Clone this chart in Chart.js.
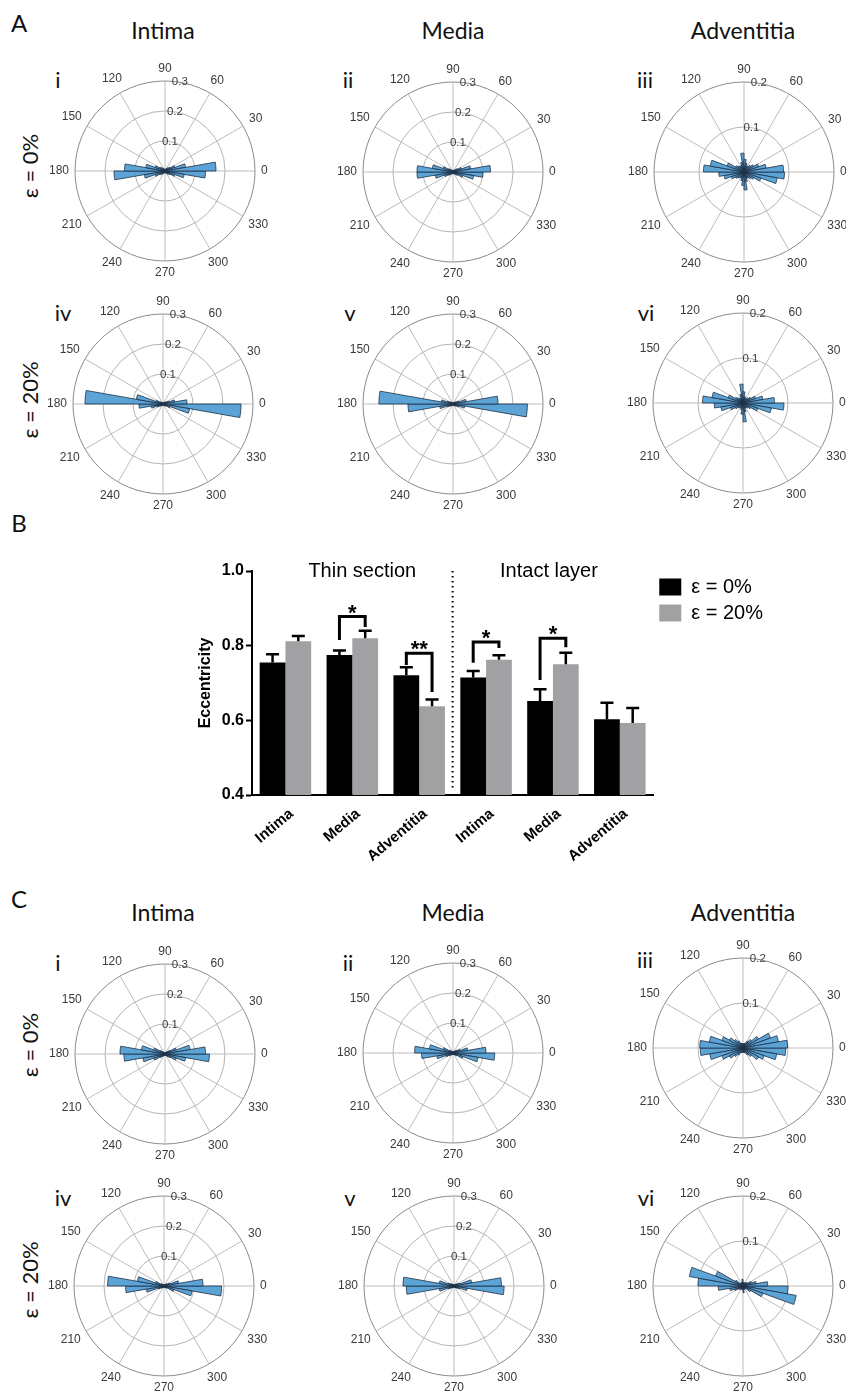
<!DOCTYPE html>
<html>
<head>
<meta charset="utf-8">
<title>Fibre orientation and eccentricity</title>
<script src="https://cdn.jsdelivr.net/npm/chart.js@4.4.0/dist/chart.umd.min.js"></script>
<style>
  html, body { margin: 0; padding: 0; background: #fff; }
  #page { position: relative; width: 846px; height: 1398px; overflow: hidden; font-family: Lato, "Open Sans", sans-serif; color: #111; }
  .t { position: absolute; transform: translate(-50%, -50%); white-space: nowrap; line-height: 1; }
  .panel { font-size: 24px; }
  .layer { font-size: 23px; }
  .num { font-size: 22px; }
  .strain { font-size: 22px; transform: translate(-50%, -50%) rotate(-90deg); }
  canvas.rose { position: absolute; }
  #bars { position: absolute; left: 190px; top: 550px; }
</style>
</head>
<body>
<div id="page">
  <div class="t panel" style="left:19px;top:23px">A</div>
  <div class="t panel" style="left:19px;top:523px">B</div>
  <div class="t panel" style="left:19px;top:899px">C</div>

  <div class="t layer" style="left:163px;top:30px">Intima</div>
  <div class="t layer" style="left:453px;top:30px">Media</div>
  <div class="t layer" style="left:743px;top:30px">Adventitia</div>
  <div class="t layer" style="left:163px;top:912px">Intima</div>
  <div class="t layer" style="left:453px;top:912px">Media</div>
  <div class="t layer" style="left:743px;top:912px">Adventitia</div>

  <div class="t strain" style="left:30px;top:166px">ε = 0%</div>
  <div class="t strain" style="left:30px;top:400px">ε = 20%</div>
  <div class="t strain" style="left:30px;top:1045px">ε = 0%</div>
  <div class="t strain" style="left:30px;top:1280px">ε = 20%</div>

  <div class="t num" style="left:58px;top:80px">i</div>
  <div class="t num" style="left:348px;top:80px">ii</div>
  <div class="t num" style="left:645px;top:80px">iii</div>
  <div class="t num" style="left:63px;top:313px">iv</div>
  <div class="t num" style="left:350px;top:313px">v</div>
  <div class="t num" style="left:646px;top:313px">vi</div>
  <div class="t num" style="left:58px;top:963px">i</div>
  <div class="t num" style="left:348px;top:963px">ii</div>
  <div class="t num" style="left:645px;top:960px">iii</div>
  <div class="t num" style="left:63px;top:1198px">iv</div>
  <div class="t num" style="left:350px;top:1198px">v</div>
  <div class="t num" style="left:646px;top:1198px">vi</div>

  <canvas class="rose" id="roseA1" width="240" height="240" style="left:45px;top:51px"></canvas>
  <canvas class="rose" id="roseA2" width="240" height="240" style="left:333px;top:52px"></canvas>
  <canvas class="rose" id="roseA3" width="240" height="240" style="left:624px;top:52px"></canvas>
  <canvas class="rose" id="roseA4" width="240" height="240" style="left:43px;top:284px"></canvas>
  <canvas class="rose" id="roseA5" width="240" height="240" style="left:333px;top:284px"></canvas>
  <canvas class="rose" id="roseA6" width="240" height="240" style="left:623px;top:283px"></canvas>
  <canvas class="rose" id="roseC1" width="240" height="240" style="left:45px;top:934px"></canvas>
  <canvas class="rose" id="roseC2" width="240" height="240" style="left:333px;top:933px"></canvas>
  <canvas class="rose" id="roseC3" width="240" height="240" style="left:623px;top:928px"></canvas>
  <canvas class="rose" id="roseC4" width="240" height="240" style="left:44px;top:1166px"></canvas>
  <canvas class="rose" id="roseC5" width="240" height="240" style="left:334px;top:1166px"></canvas>
  <canvas class="rose" id="roseC6" width="240" height="240" style="left:623px;top:1166px"></canvas>

  <canvas id="bars" width="583" height="315"></canvas>
</div>

<script>
// ---- rose histograms: fraction of fibres per 10 degree bin, bins listed from 0 deg counter-clockwise ----
const binLabels = ["0", "10", "20", "30", "40", "50", "60", "70", "80", "90", "100", "110",
    "120", "130", "140", "150", "160", "170", "180", "190", "200", "210", "220", "230",
    "240", "250", "260", "270", "280", "290", "300", "310", "320", "330", "340", "350"];
const spokeAngles = [0, 30, 60, 90, 120, 150, 180, 210, 240, 270, 300, 330];

// A: thin sections
const thinIntima0 = [0.17, 0.07, 0.035, 0.02, 0.015, 0.01, 0.008, 0.006, 0.006, 0.006, 0.006, 0.008,
    0.01, 0.015, 0.02, 0.035, 0.065, 0.135, 0.17, 0.07, 0.035, 0.02, 0.015, 0.01,
    0.008, 0.006, 0.006, 0.006, 0.006, 0.008, 0.01, 0.015, 0.02, 0.035, 0.065, 0.135];
const thinMedia0 = [0.125, 0.06, 0.03, 0.018, 0.012, 0.008, 0.006, 0.005, 0.005, 0.005, 0.005, 0.006,
    0.008, 0.012, 0.018, 0.035, 0.07, 0.12, 0.12, 0.06, 0.03, 0.018, 0.012, 0.008,
    0.006, 0.005, 0.005, 0.005, 0.005, 0.006, 0.008, 0.012, 0.018, 0.035, 0.07, 0.1];
const thinAdv0 = [0.088, 0.05, 0.035, 0.025, 0.02, 0.015, 0.015, 0.02, 0.028, 0.042, 0.022, 0.015,
    0.015, 0.018, 0.022, 0.04, 0.076, 0.09, 0.056, 0.045, 0.03, 0.022, 0.018, 0.015,
    0.015, 0.02, 0.03, 0.04, 0.022, 0.015, 0.015, 0.02, 0.025, 0.04, 0.075, 0.09];
const thinIntima20 = [0.08, 0.04, 0.02, 0.012, 0.008, 0.006, 0.005, 0.004, 0.004, 0.004, 0.004, 0.005,
    0.006, 0.008, 0.012, 0.025, 0.09, 0.26, 0.08, 0.04, 0.02, 0.012, 0.008, 0.006,
    0.005, 0.004, 0.004, 0.004, 0.004, 0.005, 0.006, 0.008, 0.012, 0.025, 0.09, 0.26];
const thinMedia20 = [0.15, 0.045, 0.02, 0.012, 0.008, 0.006, 0.005, 0.004, 0.004, 0.004, 0.004, 0.005,
    0.006, 0.008, 0.012, 0.02, 0.04, 0.247, 0.15, 0.045, 0.02, 0.012, 0.008, 0.006,
    0.005, 0.004, 0.004, 0.004, 0.004, 0.005, 0.006, 0.008, 0.012, 0.02, 0.04, 0.248];
const thinAdv20 = [0.07, 0.045, 0.03, 0.02, 0.015, 0.012, 0.012, 0.015, 0.025, 0.042, 0.02, 0.012,
    0.012, 0.015, 0.02, 0.035, 0.07, 0.09, 0.064, 0.05, 0.03, 0.02, 0.015, 0.012,
    0.012, 0.015, 0.025, 0.042, 0.02, 0.012, 0.012, 0.015, 0.02, 0.035, 0.064, 0.091];

// C: intact layers
const intactIntima0 = [0.135, 0.085, 0.04, 0.02, 0.012, 0.008, 0.005, 0.005, 0.005, 0.005, 0.005, 0.005,
    0.005, 0.012, 0.02, 0.04, 0.08, 0.15, 0.137, 0.075, 0.04, 0.02, 0.012, 0.008,
    0.005, 0.005, 0.005, 0.005, 0.005, 0.005, 0.005, 0.012, 0.02, 0.04, 0.07, 0.148];
const intactMedia0 = [0.11, 0.05, 0.025, 0.015, 0.01, 0.007, 0.005, 0.005, 0.005, 0.005, 0.005, 0.005,
    0.007, 0.01, 0.015, 0.035, 0.08, 0.128, 0.105, 0.055, 0.025, 0.015, 0.01, 0.007,
    0.005, 0.005, 0.005, 0.005, 0.005, 0.005, 0.007, 0.01, 0.015, 0.035, 0.085, 0.139];
const intactAdv0 = [0.099, 0.08, 0.065, 0.04, 0.025, 0.018, 0.012, 0.01, 0.01, 0.01, 0.01, 0.012,
    0.018, 0.025, 0.035, 0.05, 0.076, 0.096, 0.095, 0.075, 0.05, 0.035, 0.025, 0.018,
    0.012, 0.01, 0.01, 0.01, 0.01, 0.012, 0.018, 0.025, 0.04, 0.05, 0.076, 0.095];
const intactIntima20 = [0.13, 0.05, 0.02, 0.012, 0.008, 0.006, 0.005, 0.004, 0.004, 0.004, 0.004, 0.005,
    0.006, 0.008, 0.012, 0.03, 0.09, 0.188, 0.128, 0.06, 0.02, 0.012, 0.008, 0.006,
    0.005, 0.004, 0.004, 0.004, 0.004, 0.005, 0.006, 0.008, 0.012, 0.035, 0.095, 0.192];
const intactMedia20 = [0.158, 0.06, 0.02, 0.012, 0.008, 0.006, 0.005, 0.004, 0.004, 0.004, 0.004, 0.005,
    0.006, 0.008, 0.012, 0.02, 0.05, 0.17, 0.159, 0.05, 0.02, 0.012, 0.008, 0.006,
    0.005, 0.004, 0.004, 0.004, 0.004, 0.005, 0.006, 0.008, 0.012, 0.02, 0.045, 0.167];
const intactAdv20 = [0.055, 0.03, 0.02, 0.012, 0.01, 0.008, 0.008, 0.008, 0.008, 0.015, 0.008, 0.008,
    0.008, 0.008, 0.02, 0.065, 0.121, 0.1, 0.055, 0.03, 0.02, 0.012, 0.01, 0.008,
    0.008, 0.008, 0.008, 0.015, 0.008, 0.008, 0.008, 0.008, 0.02, 0.047, 0.12, 0.1];

// ---- B: eccentricity (mean and SEM) ----
const layerNames = ["Intima", "Media", "Adventitia", "Intima", "Media", "Adventitia"];
const sectionTitles = ["Thin section", "Intact layer"];
const ecc0 = [0.755, 0.775, 0.721, 0.715, 0.652, 0.603];
const ecc0Sem = [0.022, 0.012, 0.021, 0.017, 0.031, 0.044];
const ecc20 = [0.812, 0.82, 0.638, 0.762, 0.75, 0.593];
const ecc20Sem = [0.014, 0.02, 0.018, 0.012, 0.031, 0.04];
const eccTicks = [0.4, 0.6, 0.8, 1.0];
// significance brackets
const sigGroup = [1, 2, 3, 4];
const sigMark = ["*", "**", "*", "*"];
const sigTop = [0.878, 0.78, 0.81, 0.82];
const sigLeftEnd = [0.815, 0.748, 0.754, 0.708];
const sigRightEnd = [0.85, 0.676, 0.794, 0.796];

// Colors
const roseFill = "rgba(92, 163, 214, 1)";
const roseEdge = "#1d2f44";
const ringColor = "#b3b3b3";
const outerRingColor = "#8a8a8a";
const spokeColor = "#bdbdbd";
const polarText = "#3a3a3a";
const black = "#000000";
const grey = "#a1a1a4";

const helv = '"Liberation Sans", Arial, sans-serif';

// Grid spokes and angle / radius labels of the rose plots
const roseFrame = {
    id: "roseFrame",
    beforeDatasetsDraw(chart) {
        const s = chart.scales.r;
        const c = chart.ctx;
        c.save();
        c.strokeStyle = spokeColor;
        c.lineWidth = 1;
        spokeAngles.forEach(function (deg) {
            const a = (deg * Math.PI) / 180;
            c.beginPath();
            c.moveTo(s.xCenter, s.yCenter);
            c.lineTo(s.xCenter + s.drawingArea * Math.cos(a), s.yCenter - s.drawingArea * Math.sin(a));
            c.stroke();
        });
        c.restore();
    },
    afterDraw(chart) {
        const s = chart.scales.r;
        const c = chart.ctx;
        c.save();
        c.font = "12px " + helv;
        c.fillStyle = polarText;
        c.textAlign = "center";
        c.textBaseline = "middle";
        spokeAngles.forEach(function (deg) {
            const a = (deg * Math.PI) / 180;
            const txt = String(deg);
            const w = c.measureText(txt).width;
            const d = s.drawingArea + 6 + (Math.abs(Math.cos(a)) * w) / 2 + Math.abs(Math.sin(a)) * 6;
            c.fillText(txt, s.xCenter + d * Math.cos(a), s.yCenter - d * Math.sin(a));
        });
        c.font = "11.5px " + helv;
        const ra = (80.5 * Math.PI) / 180;
        s.ticks.forEach(function (t) {
            if (t.value <= 0) return;
            const d = s.getDistanceFromCenterForValue(t.value);
            c.fillText(t.value.toFixed(1), s.xCenter + d * Math.cos(ra), s.yCenter - d * Math.sin(ra));
        });
        c.restore();
    },
};

// Rose plot: arcs run clockwise from east, so bins are fed in reverse angular order
function makeRose(id, bins, rMax) {
    const el = document.getElementById(id);
    return new Chart(el.getContext("2d"), {
        type: "polarArea",
        data: {
            labels: binLabels.slice().reverse(),
            datasets: [
                {
                    data: bins.slice().reverse(),
                    backgroundColor: roseFill,
                    borderColor: roseEdge,
                    borderWidth: 0.8,
                },
            ],
        },
        options: {
            responsive: false,
            animation: false,
            layout: { padding: 30 },
            plugins: {
                legend: { display: false },
                tooltip: { enabled: false },
            },
            scales: {
                r: {
                    min: 0,
                    max: rMax,
                    startAngle: 90,
                    ticks: { display: false, stepSize: 0.1 },
                    grid: {
                        circular: true,
                        lineWidth: 1,
                        color: function (ctx) {
                            return ctx.tick && Math.abs(ctx.tick.value - rMax) < 1e-6 ? outerRingColor : ringColor;
                        },
                    },
                    angleLines: { display: false },
                    pointLabels: { display: false },
                },
            },
        },
        plugins: [roseFrame],
    });
}

makeRose("roseA1", thinIntima0, 0.3);
makeRose("roseA2", thinMedia0, 0.3);
makeRose("roseA3", thinAdv0, 0.2);
makeRose("roseA4", thinIntima20, 0.3);
makeRose("roseA5", thinMedia20, 0.3);
makeRose("roseA6", thinAdv20, 0.2);
makeRose("roseC1", intactIntima0, 0.3);
makeRose("roseC2", intactMedia0, 0.3);
makeRose("roseC3", intactAdv0, 0.2);
makeRose("roseC4", intactIntima20, 0.3);
makeRose("roseC5", intactMedia20, 0.3);
makeRose("roseC6", intactAdv20, 0.2);

// Error bars, significance brackets, divider and section titles for the bar chart
const barExtras = {
    id: "barExtras",
    afterDatasetsDraw(chart) {
        const c = chart.ctx;
        const y = chart.scales.y;
        const x = chart.scales.x;
        const area = chart.chartArea;
        const sems = [ecc0Sem, ecc20Sem];
        c.save();
        c.strokeStyle = black;
        c.fillStyle = black;

        // error bars (upper only)
        c.lineWidth = 2.5;
        [0, 1].forEach(function (d) {
            const meta = chart.getDatasetMeta(d);
            const vals = chart.data.datasets[d].data;
            meta.data.forEach(function (bar, i) {
                const top = y.getPixelForValue(vals[i] + sems[d][i]);
                c.beginPath();
                c.moveTo(bar.x, bar.y);
                c.lineTo(bar.x, top);
                c.moveTo(bar.x - 6.5, top);
                c.lineTo(bar.x + 6.5, top);
                c.stroke();
            });
        });

        // brackets
        const m0 = chart.getDatasetMeta(0);
        const m1 = chart.getDatasetMeta(1);
        c.lineWidth = 3;
        c.lineJoin = "miter";
        c.font = "bold 22px " + helv;
        c.textAlign = "center";
        c.textBaseline = "alphabetic";
        sigGroup.forEach(function (g, k) {
            const x0 = m0.data[g].x;
            const x1 = m1.data[g].x;
            const yt = y.getPixelForValue(sigTop[k]);
            c.beginPath();
            c.moveTo(x0, y.getPixelForValue(sigLeftEnd[k]));
            c.lineTo(x0, yt);
            c.lineTo(x1, yt);
            c.lineTo(x1, y.getPixelForValue(sigRightEnd[k]));
            c.stroke();
            c.fillText(sigMark[k], (x0 + x1) / 2, yt + 3);
        });

        // dotted divider between the two sample types
        const xd = (x.getPixelForValue(2) + x.getPixelForValue(3)) / 2;
        c.lineWidth = 2;
        c.setLineDash([1.5, 3.5]);
        c.beginPath();
        c.moveTo(xd, area.top);
        c.lineTo(xd, area.bottom - 4);
        c.stroke();
        c.setLineDash([]);

        // section titles
        c.font = "20px " + helv;
        c.textBaseline = "middle";
        c.fillText(sectionTitles[0], x.getPixelForValue(1) + 10, area.top);
        c.fillText(sectionTitles[1], x.getPixelForValue(4) - 4, area.top);
        c.restore();
    },
};

const barCtx = document.getElementById("bars").getContext("2d");
new Chart(barCtx, {
    type: "bar",
    data: {
        labels: layerNames,
        datasets: [
            {
                label: "ε = 0%",
                data: ecc0,
                backgroundColor: black,
                borderWidth: 0,
                barPercentage: 1,
                categoryPercentage: 0.77,
            },
            {
                label: "ε = 20%",
                data: ecc20,
                backgroundColor: grey,
                borderWidth: 0,
                barPercentage: 1,
                categoryPercentage: 0.77,
            },
        ],
    },
    options: {
        responsive: false,
        animation: false,
        layout: { padding: { top: 21, left: 0, right: 0, bottom: 0 } },
        plugins: {
            tooltip: { enabled: false },
            legend: {
                display: true,
                position: "right",
                align: "start",
                labels: {
                    color: black,
                    boxWidth: 22,
                    boxHeight: 17,
                    padding: 6,
                    font: { size: 20, family: helv },
                },
            },
        },
        scales: {
            x: {
                grid: { display: false },
                border: { display: true, color: black, width: 2 },
                ticks: {
                    color: black,
                    font: { size: 15, weight: "bold", family: helv },
                    minRotation: 40,
                    maxRotation: 40,
                    autoSkip: false,
                    labelOffset: 6,
                    padding: 2,
                },
                afterFit: function (scale) {
                    scale.height = 70;
                },
            },
            y: {
                min: 0.4,
                max: 1.0,
                afterBuildTicks: function (scale) {
                    scale.ticks = eccTicks.map(function (v) {
                        return { value: v };
                    });
                },
                grid: {
                    display: true,
                    drawOnChartArea: false,
                    drawTicks: true,
                    tickLength: 6,
                    tickWidth: 2,
                    tickColor: black,
                },
                border: { display: true, color: black, width: 2 },
                ticks: {
                    color: black,
                    padding: 2,
                    font: { size: 16, weight: "bold", family: helv },
                    callback: function (v) {
                        return Number(v).toFixed(1);
                    },
                },
                title: {
                    display: true,
                    text: "Eccentricity",
                    color: black,
                    font: { size: 16, weight: "bold", family: helv },
                    padding: { top: 6, bottom: 2 },
                },
                afterFit: function (scale) {
                    scale.width = 62;
                },
            },
        },
    },
    plugins: [barExtras],
});
</script>
</body>
</html>
